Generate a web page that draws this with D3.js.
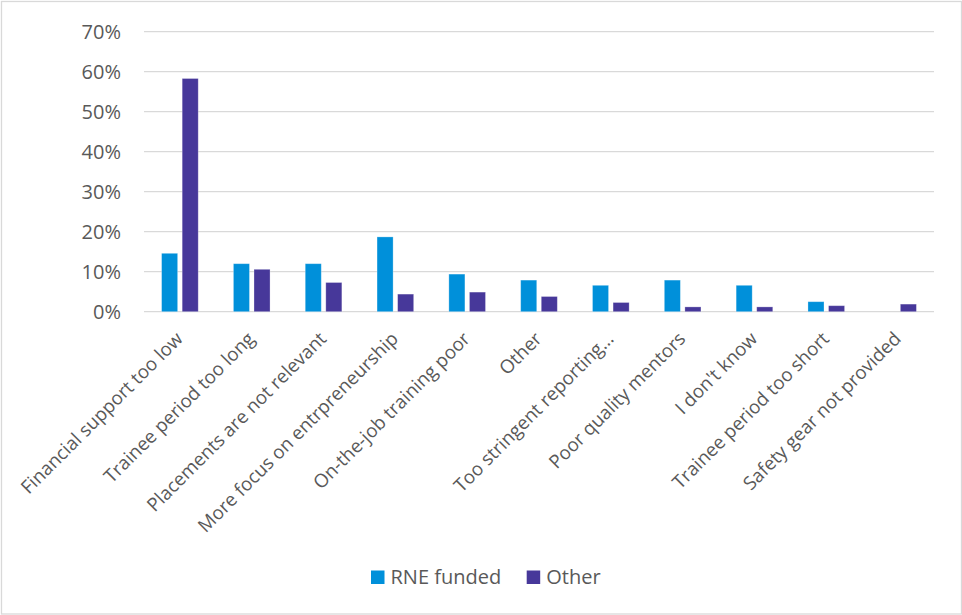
<!DOCTYPE html>
<html>
<head>
<meta charset="utf-8">
<script src="https://cdn.jsdelivr.net/npm/d3@7"></script>
<style>
  html, body { margin: 0; padding: 0; background: #fff; }
  svg { display: block; font-family: "Open Sans", "Noto Sans", sans-serif; }
</style>
</head>
<body>
<svg id="chart" width="962" height="615"></svg>
<script>
// Reasons given, share of respondents per group
const categories = [
  "Financial support too low",
  "Trainee period too long",
  "Placements are not relevant",
  "More focus on entrpreneurship",
  "On-the-job training poor",
  "Other",
  "Too stringent reporting…",
  "Poor quality mentors",
  "I don't know",
  "Trainee period too short",
  "Safety gear not provided"
];
const seriesNames = ["RNE funded", "Other"];
const rneFunded = [0.146, 0.120, 0.120, 0.187, 0.094, 0.079, 0.066, 0.079, 0.066, 0.025, 0.000];
const otherGroup = [0.583, 0.106, 0.073, 0.044, 0.049, 0.038, 0.023, 0.012, 0.012, 0.015, 0.019];
const yTicks = [0, 0.1, 0.2, 0.3, 0.4, 0.5, 0.6, 0.7];
const colors = ["#0090DA", "#47389A"];

const svg = d3.select("#chart");
const W = 962, H = 615;
const plot = { left: 144, right: 934, top: 31.7, bottom: 311.7 };

// Outer chart frame
svg.append("rect")
  .attr("x", 1.5).attr("y", 1.5)
  .attr("width", W - 2).attr("height", H - 2.5)
  .attr("fill", "#fff").attr("stroke", "#D9D9D9").attr("stroke-width", 1.3);

const x0 = d3.scaleBand().domain(categories)
  .range([plot.left, plot.right]).paddingInner(0.49).paddingOuter(0.245);
const x1 = d3.scaleBand().domain(seriesNames)
  .range([0, x0.bandwidth()]).paddingInner(0.22);
const y = d3.scaleLinear().domain([0, 0.7]).range([plot.bottom, plot.top]);

// Horizontal gridlines
svg.append("g").selectAll("line").data(yTicks).join("line")
  .attr("x1", plot.left).attr("x2", plot.right)
  .attr("y1", d => y(d)).attr("y2", d => y(d))
  .attr("stroke", "#D9D9D9").attr("stroke-width", 1.3);

// Y axis labels
const yAxis = d3.axisLeft(y).tickValues(yTicks)
  .tickFormat(d3.format(".0%")).tickSize(0).tickPadding(23);
const gy = svg.append("g").attr("transform", `translate(${plot.left},0)`).call(yAxis);
gy.select(".domain").remove();
gy.selectAll("text")
  .attr("fill", "#595959").attr("font-size", 20)
  .attr("font-family", "'Open Sans', 'Noto Sans', sans-serif");

// Bars
const rows = categories.map((c, i) => ({ cat: c, vals: [rneFunded[i], otherGroup[i]] }));
const groups = svg.append("g").selectAll("g").data(rows).join("g")
  .attr("transform", d => `translate(${x0(d.cat)},0)`);
groups.selectAll("rect")
  .data(d => d.vals.map((v, k) => ({ key: seriesNames[k], v, k })))
  .join("rect")
  .filter(d => d.v > 0)
  .attr("x", d => x1(d.key))
  .attr("width", x1.bandwidth())
  .attr("y", d => y(d.v))
  .attr("height", d => y(0) - y(d.v))
  .attr("fill", d => colors[d.k])
  .attr("stroke", "#ffffff").attr("stroke-opacity", 0.35).attr("stroke-width", 0.8);

// Rotated category labels
svg.append("g").selectAll("text").data(categories).join("text")
  .attr("transform", d => `translate(${x0(d) + x0.bandwidth() / 2 + 4},340) rotate(-45)`)
  .attr("text-anchor", "end")
  .attr("fill", "#595959").attr("font-size", 18.7)
  .text(d => d);

// Legend
const legend = svg.append("g").attr("transform", "translate(371,570.5)");
const legendX = [0, 155.7];
seriesNames.forEach((name, k) => {
  const g = legend.append("g").attr("transform", `translate(${legendX[k]},0)`);
  g.append("rect").attr("width", 13.5).attr("height", 13.5).attr("fill", colors[k]);
  g.append("text").attr("x", 19.5).attr("y", 13)
    .attr("fill", "#595959").attr("font-size", 20).text(name);
});
</script>
</body>
</html>
